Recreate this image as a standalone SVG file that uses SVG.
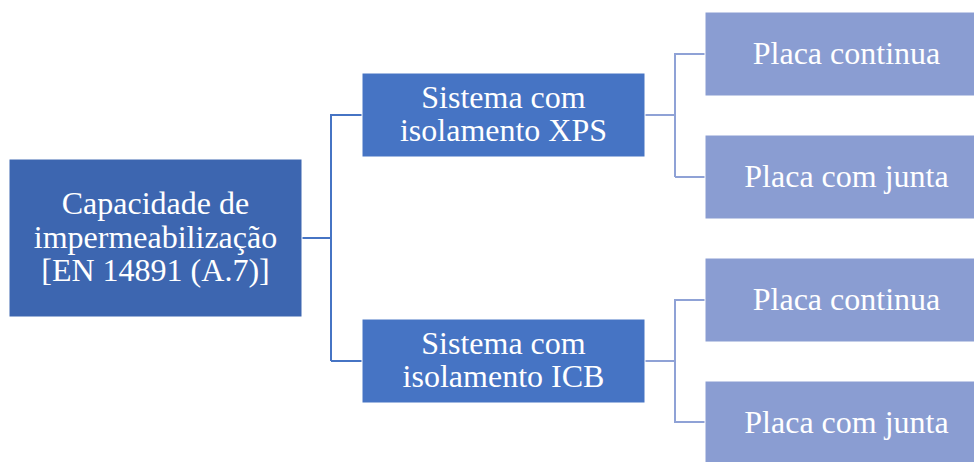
<svg xmlns="http://www.w3.org/2000/svg" width="974" height="462" viewBox="0 0 974 462">
<style>
.t{font-family:"Liberation Serif","Times New Roman",serif;font-size:32px;fill:#fff;text-anchor:middle}
.root{fill:#3D66B0;stroke:#fff;stroke-width:1}
.mid{fill:#4674C4;stroke:#fff;stroke-width:1}
.leaf{fill:#8A9DD2;stroke:#fff;stroke-width:1}
.c1{fill:none;stroke:#4674C4;stroke-width:2}
.c2{fill:none;stroke:#8FA2D6;stroke-width:2}
</style>
<rect width="974" height="462" fill="#fff"/>
<g id="connectors">
<path class="c1" d="M302 238H331M331 114V361M331 115H362M331 361H362"/>
<path class="c2" d="M645 115H675M675 53V177M675 54H705M675 177H705"/>
<path class="c2" d="M645 361H675M675 299V423M675 300H705M675 422H705"/>
</g>
<g id="root">
<rect class="root" x="9" y="159" width="293" height="158"/>
<text class="t" x="155.5" y="214">Capacidade de</text>
<text class="t" x="155.5" y="247.5">impermeabilização</text>
<text class="t" x="155.5" y="281">[EN 14891 (A.7)]</text>
</g>
<g id="xps">
<rect class="mid" x="362" y="73" width="283" height="84"/>
<text class="t" x="503.5" y="108">Sistema com</text>
<text class="t" x="503.5" y="141">isolamento XPS</text>
</g>
<g id="icb">
<rect class="mid" x="362" y="319" width="283" height="84"/>
<text class="t" x="503.5" y="354">Sistema com</text>
<text class="t" x="503.5" y="387">isolamento ICB</text>
</g>
<g id="xps-continua">
<rect class="leaf" x="705" y="12" width="283" height="84"/>
<text class="t" x="846.5" y="64">Placa continua</text>
</g>
<g id="xps-junta">
<rect class="leaf" x="705" y="135" width="283" height="84"/>
<text class="t" x="846.5" y="187">Placa com junta</text>
</g>
<g id="icb-continua">
<rect class="leaf" x="705" y="258" width="283" height="84"/>
<text class="t" x="846.5" y="310">Placa continua</text>
</g>
<g id="icb-junta">
<rect class="leaf" x="705" y="381" width="283" height="84"/>
<text class="t" x="846.5" y="433">Placa com junta</text>
</g>
</svg>
